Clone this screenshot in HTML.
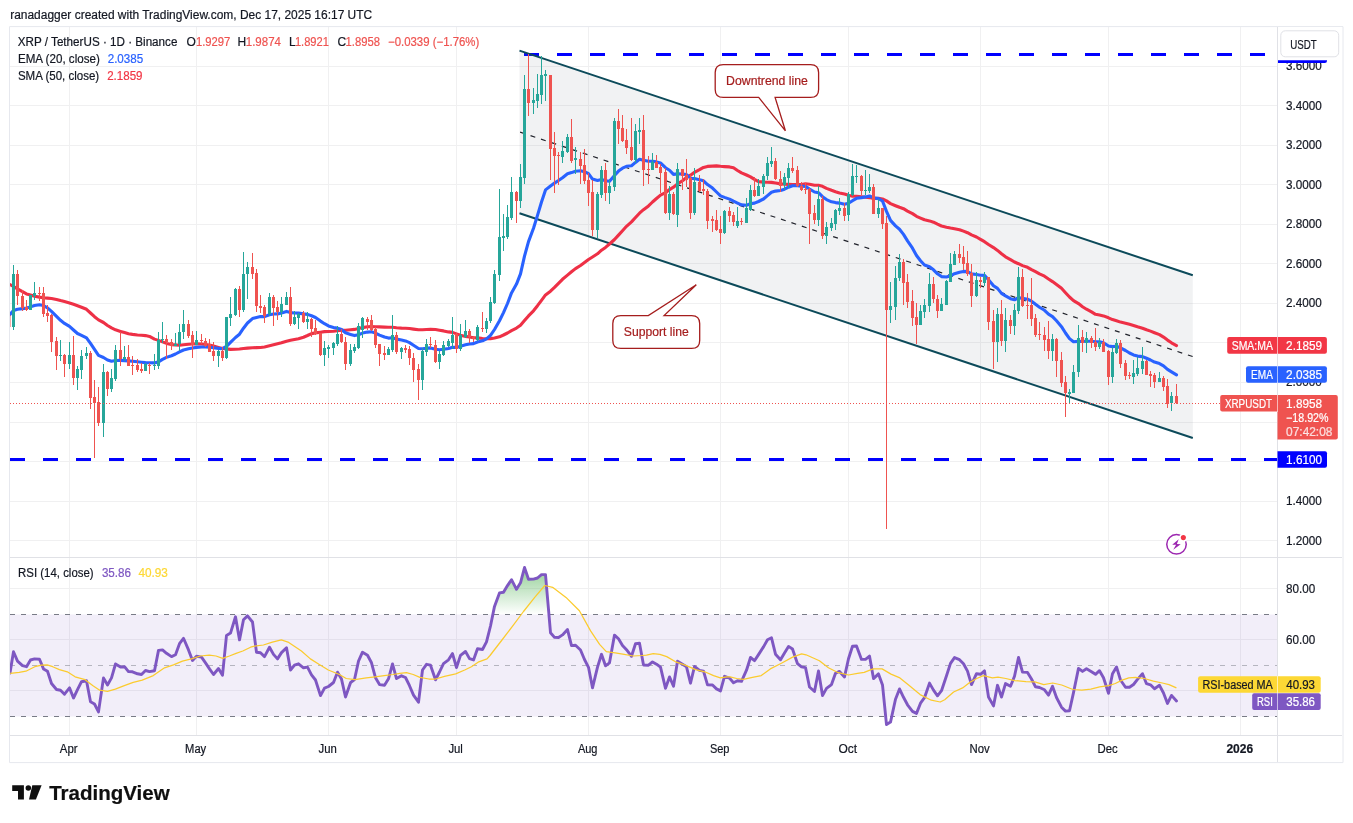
<!DOCTYPE html>
<html><head><meta charset="utf-8"><title>XRPUSDT chart</title>
<style>html,body{margin:0;padding:0;background:#fff}body{width:1353px;height:823px;overflow:hidden}</style></head>
<body>
<svg width="1353" height="823" viewBox="0 0 1353 823" style="display:block;font-family:'Liberation Sans', sans-serif;font-size:12px">
<rect width="1353" height="823" fill="#fff"/>
<defs>
<clipPath id="cm"><rect x="10" y="27" width="1267" height="530"/></clipPath>
<clipPath id="cr"><rect x="10" y="558" width="1267" height="177"/></clipPath>
<linearGradient id="og" x1="0" y1="537" x2="0" y2="614.5" gradientUnits="userSpaceOnUse"><stop offset="0" stop-color="#4caf50" stop-opacity="1"/><stop offset="1" stop-color="#4caf50" stop-opacity="0"/></linearGradient>
</defs>
<text x="10.2" y="18.8" font-size="12px" fill="#131722" stroke="#131722" stroke-width="0.2" textLength="362" lengthAdjust="spacingAndGlyphs">ranadagger created with TradingView.com, Dec 17, 2025 16:17 UTC</text>
<path d="M69.5 27V735 M196.5 27V735 M328.5 27V735 M456.5 27V735 M588.5 27V735 M720.5 27V735 M848.5 27V735 M980.5 27V735 M1108.5 27V735 M1240.5 27V735 M10 66.5H1277 M10 105.5H1277 M10 145.5H1277 M10 184.5H1277 M10 224.5H1277 M10 263.5H1277 M10 303.5H1277 M10 342.5H1277 M10 382.5H1277 M10 422.5H1277 M10 461.5H1277 M10 501.5H1277 M10 540.5H1277 M10 588.5H1277 M10 639.5H1277 M10 690.5H1277" stroke="#2a2e39" stroke-opacity="0.07" stroke-width="1" fill="none" shape-rendering="crispEdges"/>
<g clip-path="url(#cm)">
<path d="M10 459.5H1277.5" stroke="#0000ff" stroke-width="3" stroke-dasharray="15 18" fill="none" shape-rendering="crispEdges"/>
<path d="M524 54.5H1277.5" stroke="#0000ff" stroke-width="3" stroke-dasharray="15 18" fill="none" shape-rendering="crispEdges"/>
<polygon points="519.5,50.6 1192.8,275.3 1192.8,438.0 519.5,213.3" fill="#787b86" fill-opacity="0.1"/>
<path d="M520.1 132.15L1192.8 356.6" stroke="#20222a" stroke-width="1.2" stroke-dasharray="5 6" fill="none"/>
<path d="M519.5 50.6L1192.8 275.3M519.5 213.3L1192.8 438.0" stroke="#0c4a5a" stroke-width="2" fill="none"/>
<path d="M10.0 284.6L13.5 286.5L17.5 288.9L22.5 291.7L26.5 293.9L30.5 295.0L34.5 296.2L39.5 297.1L43.5 297.7L47.5 298.1L51.5 298.5L56.5 299.5L60.5 300.6L64.5 301.6L69.5 303.0L73.5 304.3L77.5 305.7L81.5 307.2L86.5 309.3L90.5 313.0L94.5 316.7L98.5 319.9L103.5 322.5L107.5 325.5L111.5 327.9L115.5 329.8L120.5 331.4L124.5 332.6L128.5 333.8L132.5 334.4L137.5 335.0L141.5 335.3L145.5 335.6L149.5 336.4L154.5 339.1L158.5 340.4L162.5 341.9L166.5 343.4L171.5 344.6L175.5 344.9L179.5 345.2L183.5 344.7L188.5 344.2L192.5 344.0L196.5 343.9L201.5 344.0L205.5 344.5L209.5 345.1L213.5 346.1L218.5 347.4L222.5 348.4L226.5 348.9L230.5 349.4L235.5 349.3L239.5 349.0L243.5 348.5L247.5 348.1L252.5 347.8L256.5 347.6L260.5 347.5L264.5 347.0L269.5 345.8L273.5 344.8L277.5 343.8L281.5 342.8L286.5 341.2L290.5 340.3L294.5 339.5L298.5 338.7L303.5 337.2L307.5 335.5L311.5 333.6L315.5 332.9L320.5 332.2L324.5 331.6L328.5 331.5L333.5 331.2L337.5 330.7L341.5 330.3L345.5 330.2L350.5 329.8L354.5 329.4L358.5 328.6L362.5 327.6L367.5 326.8L371.5 326.6L375.5 326.7L379.5 326.9L384.5 327.1L388.5 327.2L392.5 327.3L396.5 327.8L401.5 328.1L405.5 328.2L409.5 328.5L413.5 329.1L418.5 329.8L422.5 329.8L426.5 329.5L430.5 329.4L435.5 329.5L439.5 330.2L443.5 330.9L448.5 331.9L452.5 332.4L456.5 333.9L460.5 335.3L465.5 336.4L469.5 337.0L473.5 337.7L477.5 337.9L482.5 338.5L486.5 338.8L490.5 338.6L494.5 338.0L499.5 336.8L503.5 335.0L507.5 333.0L511.5 330.6L516.5 328.1L520.5 325.3L524.5 320.5L528.5 315.9L533.5 310.8L537.5 305.7L541.5 300.3L545.5 294.9L550.5 291.2L554.5 287.4L558.5 283.3L562.5 279.3L567.5 275.1L571.5 271.8L575.5 268.6L580.5 265.5L584.5 262.5L588.5 259.5L592.5 257.0L597.5 253.8L601.5 250.2L605.5 247.4L609.5 244.0L614.5 239.5L618.5 235.1L622.5 230.7L626.5 226.3L631.5 221.9L635.5 217.5L639.5 213.2L643.5 209.7L648.5 205.9L652.5 202.0L656.5 198.5L660.5 195.1L665.5 192.7L669.5 189.6L673.5 187.2L677.5 183.9L682.5 180.7L686.5 177.5L690.5 175.2L694.5 172.3L699.5 169.7L703.5 167.4L707.5 166.4L712.5 166.1L716.5 165.9L720.5 166.3L724.5 166.6L729.5 166.9L733.5 167.8L737.5 170.5L741.5 172.9L746.5 175.0L750.5 176.9L754.5 179.4L758.5 181.6L763.5 182.1L767.5 182.3L771.5 182.4L775.5 183.0L780.5 183.9L784.5 184.3L788.5 184.4L792.5 184.6L797.5 184.6L801.5 184.6L805.5 183.8L809.5 184.2L814.5 185.2L818.5 185.3L822.5 186.3L826.5 188.4L831.5 190.3L835.5 191.7L839.5 192.9L844.5 194.0L848.5 195.2L852.5 196.2L856.5 196.3L861.5 196.7L865.5 197.3L869.5 197.6L873.5 198.5L878.5 198.4L882.5 199.0L886.5 200.9L890.5 203.6L895.5 205.7L899.5 207.3L903.5 208.7L907.5 211.1L912.5 213.6L916.5 216.3L920.5 218.1L924.5 219.8L929.5 220.9L933.5 222.2L937.5 224.2L941.5 226.0L946.5 227.2L950.5 228.0L954.5 228.7L959.5 229.7L963.5 231.1L967.5 232.7L971.5 234.9L976.5 237.0L980.5 239.3L984.5 241.7L988.5 244.5L993.5 247.6L997.5 250.4L1001.5 253.8L1005.5 256.8L1010.5 259.6L1014.5 262.0L1018.5 263.7L1022.5 265.6L1027.5 267.3L1031.5 269.7L1035.5 271.7L1039.5 273.9L1044.5 276.2L1048.5 279.0L1052.5 281.6L1056.5 284.5L1061.5 288.3L1065.5 292.7L1069.5 297.0L1073.5 300.6L1078.5 303.6L1082.5 306.7L1086.5 309.2L1091.5 311.9L1095.5 314.3L1099.5 315.0L1103.5 315.9L1108.5 317.8L1112.5 319.6L1116.5 320.8L1120.5 322.1L1125.5 323.2L1129.5 324.3L1133.5 325.5L1137.5 326.8L1142.5 328.3L1146.5 329.8L1150.5 331.1L1154.5 332.7L1159.5 334.6L1163.5 337.1L1167.5 340.1L1171.5 342.8L1176.5 345.6" stroke="#ee3046" stroke-width="3.1" fill="none" stroke-linejoin="round" stroke-linecap="round"/>
<path d="M10.0 314.5L13.5 310.4L17.5 309.2L22.5 308.6L26.5 308.1L30.5 306.9L34.5 305.5L39.5 304.7L43.5 305.5L47.5 307.8L51.5 311.3L56.5 316.3L60.5 320.3L64.5 323.4L69.5 326.4L73.5 330.0L77.5 333.5L81.5 335.3L86.5 337.8L90.5 343.4L94.5 349.4L98.5 355.4L103.5 357.5L107.5 360.0L111.5 361.3L115.5 360.5L120.5 360.4L124.5 360.6L128.5 360.9L132.5 361.3L137.5 361.8L141.5 362.2L145.5 362.6L149.5 362.8L154.5 362.9L158.5 361.8L162.5 359.4L166.5 357.4L171.5 355.7L175.5 354.0L179.5 351.9L183.5 350.0L188.5 348.7L192.5 348.0L196.5 347.4L201.5 347.0L205.5 347.0L209.5 347.2L213.5 347.7L218.5 348.4L222.5 348.7L226.5 346.3L230.5 342.3L235.5 337.5L239.5 334.2L243.5 328.2L247.5 323.0L252.5 318.6L256.5 317.5L260.5 316.6L264.5 316.6L269.5 314.7L273.5 314.0L277.5 313.9L281.5 312.9L286.5 311.4L290.5 312.6L294.5 313.0L298.5 313.1L303.5 313.9L307.5 314.4L311.5 315.8L315.5 317.5L320.5 321.1L324.5 323.7L328.5 325.9L333.5 327.5L337.5 328.1L341.5 329.5L345.5 332.8L350.5 334.4L354.5 335.6L358.5 334.7L362.5 333.1L367.5 332.1L371.5 331.8L375.5 333.1L379.5 335.1L384.5 337.0L388.5 338.1L392.5 337.8L396.5 339.1L401.5 340.0L405.5 340.9L409.5 342.6L413.5 345.2L418.5 348.5L422.5 348.7L426.5 348.3L430.5 347.9L435.5 349.3L439.5 349.7L443.5 349.3L448.5 348.5L452.5 347.2L456.5 347.4L460.5 346.2L465.5 344.8L469.5 344.0L473.5 343.6L477.5 342.0L482.5 340.8L486.5 338.9L490.5 335.4L494.5 329.5L499.5 320.7L503.5 312.6L507.5 303.5L511.5 292.9L516.5 284.1L520.5 273.9L524.5 256.2L528.5 241.6L533.5 228.2L537.5 215.4L541.5 202.0L545.5 189.9L550.5 186.0L554.5 183.1L558.5 180.5L562.5 177.7L567.5 173.8L571.5 172.6L575.5 171.2L580.5 170.7L584.5 171.7L588.5 173.7L592.5 179.1L597.5 180.5L601.5 179.5L605.5 180.8L609.5 181.3L614.5 175.5L618.5 171.1L622.5 168.2L626.5 166.3L631.5 165.7L635.5 162.4L639.5 159.3L643.5 160.3L648.5 161.2L652.5 161.3L656.5 161.9L660.5 163.0L665.5 167.7L669.5 170.2L673.5 174.4L677.5 173.9L682.5 174.0L686.5 174.6L690.5 178.2L694.5 178.6L699.5 179.7L703.5 180.8L707.5 184.6L712.5 188.1L716.5 192.0L720.5 195.9L724.5 197.4L729.5 199.1L733.5 201.2L737.5 203.1L741.5 204.9L746.5 205.2L750.5 203.8L754.5 203.1L758.5 201.5L763.5 199.0L767.5 195.6L771.5 192.3L775.5 191.1L780.5 190.5L784.5 189.2L788.5 187.2L792.5 185.7L797.5 185.7L801.5 186.1L805.5 186.4L809.5 189.0L814.5 192.0L818.5 192.7L822.5 196.7L826.5 199.6L831.5 201.8L835.5 202.6L839.5 203.1L844.5 204.3L848.5 203.3L852.5 200.7L856.5 198.3L861.5 197.6L865.5 196.9L869.5 196.0L873.5 197.7L878.5 198.6L882.5 201.0L886.5 211.4L890.5 220.4L895.5 225.9L899.5 229.3L903.5 234.4L907.5 240.9L912.5 248.2L916.5 255.5L920.5 260.8L924.5 265.0L929.5 266.8L933.5 269.8L937.5 273.8L941.5 276.6L946.5 277.0L950.5 275.8L954.5 273.7L959.5 272.2L963.5 271.4L967.5 271.6L971.5 273.9L976.5 274.5L980.5 275.2L984.5 275.4L988.5 279.8L993.5 285.7L997.5 288.4L1001.5 293.4L1005.5 295.9L1010.5 298.7L1014.5 299.8L1018.5 297.6L1022.5 298.4L1027.5 299.2L1031.5 301.1L1035.5 304.3L1039.5 307.2L1044.5 310.3L1048.5 314.2L1052.5 316.6L1056.5 320.8L1061.5 326.7L1065.5 333.0L1069.5 338.6L1073.5 341.8L1078.5 341.4L1082.5 341.5L1086.5 341.2L1091.5 341.3L1095.5 341.8L1099.5 341.8L1103.5 342.8L1108.5 346.0L1112.5 346.6L1116.5 346.2L1120.5 347.9L1125.5 350.5L1129.5 353.0L1133.5 354.9L1137.5 356.1L1142.5 356.6L1146.5 358.3L1150.5 360.0L1154.5 362.1L1159.5 363.6L1163.5 365.8L1167.5 369.4L1171.5 371.9L1176.5 374.9" stroke="#2962ff" stroke-width="3.1" fill="none" stroke-linejoin="round" stroke-linecap="round"/>
<path d="M8 315h2.9v12h-2.9z" fill="#ef5350" fill-opacity="0.55"/>
<path d="M13.0 265h1v65h-1zM30.0 295h1v15h-1zM34.0 282h1v18h-1zM60.0 340h1v21h-1zM69.0 342h1v27h-1zM77.0 366h1v24h-1zM81.0 350h1v29h-1zM86.0 347h1v12h-1zM103.0 364h1v73h-1zM111.0 369h1v23h-1zM115.0 345h1v36h-1zM124.0 346h1v15h-1zM145.0 363h1v8h-1zM154.0 354h1v16h-1zM158.0 332h1v37h-1zM162.0 322h1v21h-1zM175.0 333h1v13h-1zM179.0 324h1v27h-1zM183.0 310h1v29h-1zM196.0 331h1v14h-1zM218.0 350h1v17h-1zM226.0 317h1v42h-1zM230.0 297h1v29h-1zM235.0 288h1v28h-1zM243.0 252h1v60h-1zM247.0 262h1v37h-1zM269.0 293h1v23h-1zM281.0 297h1v20h-1zM286.0 292h1v13h-1zM294.0 311h1v14h-1zM298.0 313h1v16h-1zM307.0 312h1v17h-1zM324.0 341h1v25h-1zM328.0 345h1v13h-1zM333.0 342h1v13h-1zM337.0 326h1v20h-1zM350.0 344h1v22h-1zM354.0 344h1v9h-1zM358.0 323h1v26h-1zM362.0 317h1v21h-1zM388.0 347h1v8h-1zM392.0 315h1v37h-1zM401.0 347h1v12h-1zM422.0 348h1v42h-1zM426.0 339h1v17h-1zM439.0 351h1v18h-1zM443.0 341h1v15h-1zM448.0 339h1v8h-1zM452.0 317h1v32h-1zM460.0 324h1v27h-1zM465.0 320h1v18h-1zM477.0 325h1v16h-1zM486.0 318h1v15h-1zM490.0 297h1v26h-1zM494.0 270h1v34h-1zM499.0 189h1v92h-1zM503.0 214h1v37h-1zM507.0 205h1v34h-1zM511.0 177h1v43h-1zM520.0 164h1v44h-1zM524.0 75h1v109h-1zM533.0 88h1v26h-1zM537.0 74h1v34h-1zM541.0 56h1v48h-1zM545.0 70h1v31h-1zM562.0 141h1v22h-1zM567.0 134h1v19h-1zM575.0 147h1v27h-1zM597.0 192h1v46h-1zM601.0 166h1v32h-1zM609.0 180h1v24h-1zM614.0 118h1v73h-1zM635.0 124h1v39h-1zM639.0 118h1v26h-1zM652.0 153h1v17h-1zM669.0 186h1v34h-1zM677.0 163h1v64h-1zM694.0 168h1v47h-1zM724.0 210h1v24h-1zM737.0 207h1v21h-1zM746.0 198h1v25h-1zM750.0 185h1v26h-1zM758.0 179h1v17h-1zM763.0 174h1v20h-1zM767.0 157h1v23h-1zM771.0 147h1v20h-1zM784.0 173h1v17h-1zM788.0 163h1v25h-1zM818.0 186h1v40h-1zM826.0 222h1v22h-1zM831.0 218h1v13h-1zM835.0 209h1v21h-1zM839.0 198h1v17h-1zM848.0 192h1v29h-1zM852.0 164h1v32h-1zM856.0 165h1v18h-1zM865.0 170h1v25h-1zM869.0 174h1v19h-1zM878.0 199h1v19h-1zM890.0 282h1v41h-1zM895.0 266h1v54h-1zM899.0 254h1v27h-1zM920.0 305h1v20h-1zM924.0 299h1v19h-1zM929.0 273h1v39h-1zM941.0 298h1v13h-1zM946.0 280h1v25h-1zM950.0 253h1v29h-1zM954.0 251h1v14h-1zM976.0 272h1v25h-1zM984.0 272h1v14h-1zM997.0 308h1v54h-1zM1005.0 308h1v44h-1zM1014.0 304h1v31h-1zM1018.0 267h1v47h-1zM1052.0 334h1v27h-1zM1069.0 389h1v14h-1zM1073.0 365h1v28h-1zM1078.0 325h1v52h-1zM1086.0 332h1v21h-1zM1099.0 338h1v11h-1zM1112.0 347h1v36h-1zM1116.0 339h1v15h-1zM1133.0 360h1v24h-1zM1137.0 357h1v19h-1zM1142.0 347h1v27h-1zM1159.0 372h1v10h-1zM1171.0 392h1v19h-1zM12.0 274h3v53h-3zM29.0 295h3v15h-3zM33.0 293h3v3h-3zM59.0 355h3v1h-3zM68.0 355h3v9h-3zM76.0 369h3v9h-3zM80.0 356h3v14h-3zM85.0 353h3v3h-3zM102.0 372h3v51h-3zM110.0 378h3v11h-3zM114.0 350h3v29h-3zM123.0 357h3v2h-3zM144.0 364h3v7h-3zM153.0 365h3v1h-3zM157.0 340h3v26h-3zM161.0 339h3v1h-3zM174.0 344h3v2h-3zM178.0 332h3v12h-3zM182.0 324h3v8h-3zM195.0 340h3v5h-3zM217.0 351h3v5h-3zM225.0 317h3v41h-3zM229.0 314h3v4h-3zM234.0 289h3v26h-3zM242.0 274h3v36h-3zM246.0 267h3v7h-3zM268.0 297h3v17h-3zM280.0 304h3v8h-3zM285.0 297h3v8h-3zM293.0 317h3v7h-3zM297.0 314h3v4h-3zM306.0 319h3v3h-3zM323.0 348h3v7h-3zM327.0 347h3v2h-3zM332.0 343h3v5h-3zM336.0 334h3v10h-3zM349.0 350h3v14h-3zM353.0 347h3v4h-3zM357.0 326h3v22h-3zM361.0 318h3v12h-3zM387.0 349h3v6h-3zM391.0 335h3v15h-3zM400.0 348h3v4h-3zM421.0 351h3v29h-3zM425.0 344h3v8h-3zM438.0 354h3v8h-3zM442.0 345h3v10h-3zM447.0 341h3v5h-3zM451.0 335h3v8h-3zM459.0 335h3v14h-3zM464.0 331h3v6h-3zM476.0 327h3v13h-3zM485.0 321h3v8h-3zM489.0 302h3v19h-3zM493.0 274h3v29h-3zM498.0 237h3v38h-3zM502.0 236h3v2h-3zM506.0 217h3v20h-3zM510.0 192h3v26h-3zM519.0 177h3v24h-3zM523.0 89h3v89h-3zM532.0 100h3v3h-3zM536.0 94h3v7h-3zM540.0 75h3v20h-3zM544.0 74h3v2h-3zM561.0 151h3v6h-3zM566.0 137h3v15h-3zM574.0 158h3v2h-3zM596.0 194h3v36h-3zM600.0 170h3v25h-3zM608.0 186h3v7h-3zM613.0 121h3v66h-3zM634.0 131h3v29h-3zM638.0 130h3v2h-3zM651.0 162h3v8h-3zM668.0 194h3v19h-3zM676.0 169h3v46h-3zM693.0 182h3v31h-3zM723.0 211h3v22h-3zM736.0 221h3v5h-3zM745.0 208h3v15h-3zM749.0 190h3v20h-3zM757.0 186h3v10h-3zM762.0 176h3v11h-3zM766.0 163h3v13h-3zM770.0 161h3v3h-3zM783.0 177h3v8h-3zM787.0 168h3v10h-3zM817.0 199h3v21h-3zM825.0 227h3v9h-3zM830.0 223h3v5h-3zM834.0 210h3v14h-3zM838.0 208h3v3h-3zM847.0 194h3v21h-3zM851.0 176h3v19h-3zM855.0 176h3v1h-3zM864.0 190h3v1h-3zM868.0 187h3v4h-3zM877.0 208h3v6h-3zM889.0 306h3v4h-3zM894.0 278h3v29h-3zM898.0 262h3v16h-3zM919.0 311h3v14h-3zM923.0 305h3v7h-3zM928.0 284h3v22h-3zM940.0 304h3v7h-3zM945.0 281h3v24h-3zM949.0 264h3v18h-3zM953.0 254h3v11h-3zM975.0 280h3v16h-3zM983.0 277h3v6h-3zM996.0 314h3v28h-3zM1004.0 320h3v21h-3zM1013.0 310h3v16h-3zM1017.0 277h3v34h-3zM1051.0 339h3v12h-3zM1068.0 392h3v2h-3zM1072.0 372h3v21h-3zM1077.0 338h3v34h-3zM1085.0 338h3v5h-3zM1098.0 342h3v5h-3zM1111.0 352h3v25h-3zM1115.0 343h3v10h-3zM1132.0 373h3v4h-3zM1136.0 368h3v6h-3zM1141.0 361h3v8h-3zM1158.0 378h3v4h-3zM1170.0 396h3v7h-3z" fill="#26a69a" shape-rendering="crispEdges"/>
<path d="M17.0 270h1v35h-1zM22.0 290h1v21h-1zM26.0 300h1v11h-1zM39.0 287h1v14h-1zM43.0 287h1v30h-1zM47.0 305h1v17h-1zM51.0 314h1v38h-1zM56.0 337h1v33h-1zM64.0 354h1v23h-1zM73.0 336h1v49h-1zM90.0 351h1v58h-1zM94.0 380h1v78h-1zM98.0 387h1v39h-1zM107.0 371h1v25h-1zM120.0 332h1v34h-1zM128.0 345h1v21h-1zM132.0 356h1v19h-1zM137.0 359h1v13h-1zM141.0 363h1v10h-1zM149.0 363h1v11h-1zM166.0 335h1v24h-1zM171.0 339h1v11h-1zM188.0 320h1v18h-1zM192.0 331h1v27h-1zM201.0 334h1v10h-1zM205.0 338h1v9h-1zM209.0 339h1v13h-1zM213.0 342h1v19h-1zM222.0 347h1v14h-1zM239.0 286h1v31h-1zM252.0 253h1v26h-1zM256.0 269h1v43h-1zM260.0 295h1v18h-1zM264.0 305h1v18h-1zM273.0 295h1v31h-1zM277.0 301h1v19h-1zM290.0 287h1v39h-1zM303.0 311h1v12h-1zM311.0 318h1v19h-1zM315.0 320h1v15h-1zM320.0 333h1v23h-1zM341.0 329h1v14h-1zM345.0 337h1v33h-1zM367.0 317h1v13h-1zM371.0 315h1v16h-1zM375.0 327h1v21h-1zM379.0 344h1v22h-1zM384.0 346h1v14h-1zM396.0 332h1v22h-1zM405.0 345h1v8h-1zM409.0 346h1v19h-1zM413.0 353h1v29h-1zM418.0 364h1v36h-1zM430.0 337h1v11h-1zM435.0 340h1v23h-1zM456.0 333h1v20h-1zM469.0 329h1v14h-1zM473.0 336h1v6h-1zM482.0 312h1v20h-1zM516.0 191h1v32h-1zM528.0 54h1v62h-1zM550.0 75h1v105h-1zM554.0 132h1v61h-1zM558.0 152h1v33h-1zM571.0 119h1v44h-1zM580.0 152h1v32h-1zM584.0 149h1v35h-1zM588.0 173h1v33h-1zM592.0 180h1v56h-1zM605.0 163h1v38h-1zM618.0 109h1v35h-1zM622.0 115h1v27h-1zM626.0 129h1v25h-1zM631.0 118h1v43h-1zM643.0 115h1v71h-1zM648.0 156h1v28h-1zM656.0 155h1v13h-1zM660.0 164h1v29h-1zM665.0 168h1v46h-1zM673.0 192h1v23h-1zM682.0 169h1v21h-1zM686.0 159h1v28h-1zM690.0 175h1v44h-1zM699.0 175h1v17h-1zM703.0 179h1v16h-1zM707.0 189h1v40h-1zM712.0 216h1v16h-1zM716.0 210h1v21h-1zM720.0 216h1v28h-1zM729.0 207h1v15h-1zM733.0 212h1v14h-1zM741.0 218h1v7h-1zM754.0 177h1v20h-1zM775.0 158h1v22h-1zM780.0 171h1v21h-1zM792.0 157h1v16h-1zM797.0 166h1v21h-1zM801.0 182h1v9h-1zM805.0 183h1v11h-1zM809.0 188h1v56h-1zM814.0 205h1v19h-1zM822.0 196h1v43h-1zM844.0 203h1v18h-1zM861.0 175h1v20h-1zM873.0 184h1v30h-1zM882.0 208h1v21h-1zM886.0 216h1v313h-1zM903.0 259h1v46h-1zM907.0 274h1v34h-1zM912.0 290h1v36h-1zM916.0 303h1v41h-1zM933.0 277h1v26h-1zM937.0 295h1v23h-1zM959.0 244h1v19h-1zM963.0 246h1v24h-1zM967.0 251h1v25h-1zM971.0 264h1v43h-1zM980.0 277h1v11h-1zM988.0 277h1v53h-1zM993.0 310h1v59h-1zM1001.0 300h1v46h-1zM1010.0 315h1v19h-1zM1022.0 269h1v38h-1zM1027.0 293h1v26h-1zM1031.0 278h1v48h-1zM1035.0 314h1v23h-1zM1039.0 322h1v18h-1zM1044.0 327h1v24h-1zM1048.0 321h1v38h-1zM1056.0 338h1v39h-1zM1061.0 352h1v35h-1zM1065.0 376h1v41h-1zM1082.0 330h1v22h-1zM1091.0 336h1v12h-1zM1095.0 328h1v23h-1zM1103.0 339h1v13h-1zM1108.0 350h1v35h-1zM1120.0 340h1v28h-1zM1125.0 360h1v20h-1zM1129.0 372h1v7h-1zM1146.0 360h1v15h-1zM1150.0 371h1v16h-1zM1154.0 373h1v15h-1zM1163.0 376h1v15h-1zM1167.0 379h1v29h-1zM1176.0 384h1v20h-1zM16.0 274h3v22h-3zM21.0 296h3v12h-3zM25.0 307h3v3h-3zM38.0 293h3v1h-3zM42.0 293h3v21h-3zM46.0 313h3v3h-3zM50.0 315h3v27h-3zM55.0 341h3v15h-3zM63.0 355h3v9h-3zM72.0 355h3v23h-3zM89.0 353h3v45h-3zM93.0 397h3v6h-3zM97.0 402h3v21h-3zM106.0 372h3v17h-3zM119.0 350h3v9h-3zM127.0 357h3v9h-3zM131.0 365h3v1h-3zM136.0 365h3v5h-3zM140.0 369h3v2h-3zM148.0 365h3v1h-3zM165.0 339h3v3h-3zM170.0 342h3v4h-3zM187.0 324h3v12h-3zM191.0 335h3v10h-3zM200.0 340h3v1h-3zM204.0 341h3v5h-3zM208.0 344h3v8h-3zM212.0 351h3v5h-3zM221.0 351h3v7h-3zM238.0 289h3v21h-3zM251.0 267h3v7h-3zM255.0 273h3v33h-3zM259.0 306h3v2h-3zM263.0 307h3v9h-3zM272.0 297h3v11h-3zM276.0 307h3v5h-3zM289.0 297h3v27h-3zM302.0 313h3v9h-3zM310.0 319h3v10h-3zM314.0 328h3v6h-3zM319.0 333h3v22h-3zM340.0 334h3v8h-3zM344.0 342h3v22h-3zM366.0 319h3v3h-3zM370.0 320h3v10h-3zM374.0 329h3v16h-3zM378.0 344h3v10h-3zM383.0 353h3v2h-3zM395.0 335h3v17h-3zM404.0 348h3v2h-3zM408.0 349h3v9h-3zM412.0 358h3v12h-3zM417.0 369h3v11h-3zM429.0 344h3v1h-3zM434.0 345h3v17h-3zM455.0 334h3v15h-3zM468.0 331h3v6h-3zM472.0 337h3v2h-3zM481.0 328h3v1h-3zM515.0 192h3v9h-3zM527.0 89h3v14h-3zM549.0 75h3v74h-3zM553.0 148h3v8h-3zM557.0 155h3v1h-3zM570.0 137h3v24h-3zM579.0 159h3v7h-3zM583.0 165h3v16h-3zM587.0 180h3v13h-3zM591.0 192h3v38h-3zM604.0 170h3v23h-3zM617.0 121h3v8h-3zM621.0 128h3v13h-3zM625.0 140h3v8h-3zM630.0 147h3v13h-3zM642.0 130h3v40h-3zM647.0 169h3v1h-3zM655.0 162h3v6h-3zM659.0 167h3v6h-3zM664.0 172h3v41h-3zM672.0 194h3v20h-3zM681.0 169h3v7h-3zM685.0 175h3v5h-3zM689.0 178h3v35h-3zM698.0 182h3v9h-3zM702.0 189h3v2h-3zM706.0 191h3v30h-3zM711.0 219h3v2h-3zM715.0 220h3v10h-3zM719.0 229h3v4h-3zM728.0 211h3v5h-3zM732.0 215h3v7h-3zM740.0 221h3v1h-3zM753.0 190h3v6h-3zM774.0 161h3v18h-3zM779.0 179h3v7h-3zM791.0 168h3v3h-3zM796.0 170h3v16h-3zM800.0 186h3v4h-3zM804.0 189h3v1h-3zM808.0 189h3v25h-3zM813.0 213h3v7h-3zM821.0 199h3v37h-3zM843.0 208h3v8h-3zM860.0 176h3v15h-3zM872.0 187h3v27h-3zM881.0 208h3v16h-3zM885.0 223h3v87h-3zM902.0 262h3v21h-3zM906.0 282h3v20h-3zM911.0 301h3v17h-3zM915.0 317h3v8h-3zM932.0 284h3v15h-3zM936.0 299h3v12h-3zM958.0 254h3v4h-3zM962.0 257h3v7h-3zM966.0 263h3v11h-3zM970.0 273h3v23h-3zM979.0 280h3v2h-3zM987.0 277h3v45h-3zM992.0 321h3v21h-3zM1000.0 314h3v27h-3zM1009.0 320h3v6h-3zM1021.0 277h3v29h-3zM1026.0 305h3v1h-3zM1030.0 305h3v14h-3zM1034.0 318h3v17h-3zM1038.0 334h3v1h-3zM1043.0 335h3v5h-3zM1047.0 339h3v12h-3zM1055.0 339h3v22h-3zM1060.0 360h3v23h-3zM1064.0 382h3v11h-3zM1081.0 337h3v6h-3zM1090.0 338h3v5h-3zM1094.0 342h3v5h-3zM1102.0 342h3v10h-3zM1107.0 351h3v26h-3zM1119.0 343h3v21h-3zM1124.0 363h3v13h-3zM1128.0 375h3v1h-3zM1145.0 361h3v14h-3zM1149.0 374h3v2h-3zM1153.0 375h3v7h-3zM1162.0 378h3v9h-3zM1166.0 386h3v18h-3zM1175.0 396h3v7h-3z" fill="#ef5350" shape-rendering="crispEdges"/>
<path d="M10 403.5H1277" stroke="#ef5350" stroke-width="1" stroke-dasharray="1 2" fill="none" shape-rendering="crispEdges"/>
<path d="M723.2 64.6H810.6Q818.6 64.6 818.6 72.6V89.4Q818.6 97.4 810.6 97.4H775.1L785.4 130.8L758.7 97.4H723.2Q715.2 97.4 715.2 89.4V72.6Q715.2 64.6 723.2 64.6Z" fill="#fff" stroke="#a51d1d" stroke-width="1.3" stroke-linejoin="miter"/>
<text x="726.1" y="84.8" fill="#a51d1d" stroke="#a51d1d" stroke-width="0.2" textLength="81.8" lengthAdjust="spacingAndGlyphs">Downtrend line</text>
<path d="M620.8 315.6H648.3L696.3 284.8L664.1 315.6H691.7Q699.7 315.6 699.7 323.6V340.4Q699.7 348.4 691.7 348.4H620.8Q612.8 348.4 612.8 340.4V323.6Q612.8 315.6 620.8 315.6Z" fill="#fff" stroke="#a51d1d" stroke-width="1.3" stroke-linejoin="miter"/>
<text x="623.8" y="335.8" fill="#a51d1d" stroke="#a51d1d" stroke-width="0.2" textLength="64.9" lengthAdjust="spacingAndGlyphs">Support line</text>
<circle cx="1176.5" cy="544.3" r="9.75" fill="#fff" stroke="#9c27b0" stroke-width="1.5"/>
<path d="M1178.7 539.2L1172.2 544.7L1176.1 544.85L1173.2 549.8L1180.7 544.2L1176.9 544Z" fill="#9c27b0"/>
<circle cx="1183.35" cy="537.6" r="4.3" fill="#fff"/><circle cx="1183.35" cy="537.6" r="2.55" fill="#f23645"/>
</g>
<g clip-path="url(#cr)">
<rect x="10" y="614.5" width="1267" height="102.0" fill="#7e57c2" fill-opacity="0.1"/>
<path d="M10 614.5H1277M10 716.5H1277" stroke="#787b86" stroke-width="1" stroke-dasharray="5 6" fill="none" shape-rendering="crispEdges"/>
<path d="M10 665.5H1277" stroke="#787b86" stroke-opacity="0.5" stroke-width="1" stroke-dasharray="5 6" fill="none" shape-rendering="crispEdges"/>
<path d="M492.8 614.5L494.5 606.4L499.5 592.9L503.5 592.2L507.5 585.6L511.5 579.7L516.5 589.3L520.5 582.8L524.5 567.5L528.5 579.3L533.5 579.1L537.5 578.0L541.5 574.6L545.5 574.6L548.9 614.5Z" fill="url(#og)"/>
<path d="M10.0 673.0L13.5 651.7L17.5 661.1L22.5 665.6L26.5 666.7L30.5 660.0L34.5 658.9L39.5 659.3L43.5 668.9L47.5 671.2L51.5 683.5L56.5 689.5L60.5 690.2L64.5 694.2L69.5 687.9L73.5 698.0L77.5 689.7L81.5 681.7L86.5 680.8L90.5 701.8L94.5 704.0L98.5 711.9L103.5 677.9L107.5 685.0L111.5 677.9L115.5 664.0L120.5 667.1L124.5 666.7L128.5 671.6L132.5 671.8L137.5 673.8L141.5 674.5L145.5 670.5L149.5 671.6L154.5 670.7L158.5 650.4L162.5 649.9L166.5 653.3L171.5 656.6L175.5 654.8L179.5 643.7L183.5 638.3L188.5 649.9L192.5 660.4L196.5 656.2L201.5 657.1L205.5 662.9L209.5 668.9L213.5 674.5L218.5 668.5L222.5 675.2L226.5 635.4L230.5 633.1L235.5 616.8L239.5 639.9L243.5 619.7L247.5 615.9L252.5 622.0L256.5 652.2L260.5 652.8L264.5 656.6L269.5 647.2L273.5 654.4L277.5 658.9L281.5 652.6L286.5 647.7L290.5 670.0L294.5 665.1L298.5 663.8L303.5 667.8L307.5 667.1L311.5 674.8L315.5 680.0L320.5 695.6L324.5 688.1L328.5 686.5L333.5 682.5L337.5 672.2L341.5 679.1L345.5 697.0L350.5 682.7L354.5 679.5L358.5 661.1L362.5 652.2L367.5 655.2L371.5 662.8L375.5 677.8L379.5 684.6L384.5 685.3L388.5 678.8L392.5 663.9L396.5 678.6L401.5 675.8L405.5 677.5L409.5 685.7L413.5 695.1L418.5 702.2L422.5 670.0L426.5 664.3L430.5 665.2L435.5 679.8L439.5 672.0L443.5 663.6L448.5 659.8L452.5 653.6L456.5 667.5L460.5 655.4L465.5 651.5L469.5 658.6L473.5 659.9L477.5 648.8L482.5 649.5L486.5 641.9L490.5 626.0L494.5 606.4L499.5 592.9L503.5 592.2L507.5 585.6L511.5 579.7L516.5 589.3L520.5 582.8L524.5 567.5L528.5 579.3L533.5 579.1L537.5 578.0L541.5 574.6L545.5 574.6L550.5 632.7L554.5 637.4L558.5 637.5L562.5 634.9L567.5 629.6L571.5 645.6L575.5 645.3L580.5 650.0L584.5 659.5L588.5 667.3L592.5 687.8L597.5 667.1L601.5 654.3L605.5 665.8L609.5 662.8L614.5 635.1L618.5 638.8L622.5 645.5L626.5 649.7L631.5 656.3L635.5 643.8L639.5 643.3L643.5 665.0L648.5 665.2L652.5 661.9L656.5 664.2L660.5 667.2L665.5 688.3L669.5 676.9L673.5 686.2L677.5 661.2L682.5 664.3L686.5 666.8L690.5 683.2L694.5 666.5L699.5 670.3L703.5 671.1L707.5 684.9L712.5 685.0L716.5 688.9L720.5 690.9L724.5 676.3L729.5 678.1L733.5 682.8L737.5 680.8L741.5 681.3L746.5 670.2L750.5 657.5L754.5 660.7L758.5 654.6L763.5 646.9L767.5 639.7L771.5 637.8L775.5 654.2L780.5 659.8L784.5 652.9L788.5 646.4L792.5 649.0L797.5 663.7L801.5 666.9L805.5 667.6L809.5 687.0L814.5 691.5L818.5 671.0L822.5 695.6L826.5 688.4L831.5 684.6L835.5 673.2L839.5 671.4L844.5 676.9L848.5 658.8L852.5 646.2L856.5 646.0L861.5 659.4L865.5 659.3L869.5 656.1L873.5 678.6L878.5 673.9L882.5 684.9L886.5 724.6L890.5 722.1L895.5 699.2L899.5 688.9L903.5 697.3L907.5 704.8L912.5 711.4L916.5 713.4L920.5 703.2L924.5 697.7L929.5 683.1L933.5 690.1L937.5 695.8L941.5 690.7L946.5 675.7L950.5 663.4L954.5 657.6L959.5 659.7L963.5 663.7L967.5 671.1L971.5 684.6L976.5 673.7L980.5 674.3L984.5 670.9L988.5 697.0L993.5 705.9L997.5 685.3L1001.5 697.1L1005.5 683.6L1010.5 686.2L1014.5 676.3L1018.5 657.5L1022.5 672.1L1027.5 672.4L1031.5 679.0L1035.5 686.8L1039.5 687.5L1044.5 689.8L1048.5 695.1L1052.5 686.3L1056.5 697.5L1061.5 707.2L1065.5 711.1L1069.5 710.8L1073.5 692.6L1078.5 668.4L1082.5 671.4L1086.5 668.7L1091.5 671.7L1095.5 674.3L1099.5 670.7L1103.5 677.7L1108.5 693.3L1112.5 673.7L1116.5 666.9L1120.5 680.0L1125.5 687.3L1129.5 687.3L1133.5 684.5L1137.5 679.4L1142.5 673.7L1146.5 683.7L1150.5 684.8L1154.5 688.8L1159.5 685.3L1163.5 693.0L1167.5 703.4L1171.5 695.4L1176.5 701.0" stroke="#7e57c2" stroke-width="2.9" fill="none" stroke-linejoin="round" stroke-linecap="round"/>
<path d="M10.2 673.4L19.2 672.3L25.9 671.2L34.8 666.7L41.5 665.1L47.1 664.9L52.7 666.7L59.4 669.6L67.3 671.8L75.1 676.8L85.1 679.7L93.0 685.7L99.7 690.2L107.5 691.3L115.3 689.1L124.3 685.7L133.2 682.3L142.2 680.1L153.3 675.6L164.5 667.8L173.5 664.9L182.4 661.1L191.4 658.9L200.3 656.0L209.3 655.1L216.0 656.0L222.7 658.4L229.4 656.0L236.1 653.3L242.8 651.0L250.6 647.2L254.5 646.1L263.4 645.0L272.4 642.1L281.3 639.9L288.0 642.1L294.7 646.6L301.4 651.0L310.4 658.9L319.3 664.5L328.3 670.0L339.4 674.5L346.2 678.5L355.1 679.7L366.3 677.9L375.2 676.8L384.2 675.6L393.1 674.5L399.8 673.4L406.5 672.7L413.2 674.5L419.9 677.4L428.9 679.0L435.6 679.0L444.5 676.3L455.7 673.8L464.7 670.0L471.4 666.7L478.1 662.2L487.0 658.9L490.0 655.5L501.2 641.0L512.4 626.4L523.5 611.5L534.7 597.4L544.8 585.5L552.6 587.3L566.0 597.4L579.4 610.8L590.6 630.9L599.6 644.3L606.3 651.7L615.2 652.8L624.2 654.4L633.1 656.0L642.1 655.5L646.5 655.1L653.2 653.7L659.9 654.4L666.7 656.6L675.6 661.8L684.5 664.9L695.7 669.6L704.7 671.8L713.6 675.6L720.3 677.9L727.0 676.8L730.0 676.8L736.7 678.5L743.4 679.4L752.4 677.4L761.3 675.6L770.3 668.9L781.4 663.3L792.6 657.1L801.6 653.9L806.0 654.8L812.7 657.7L819.4 660.7L828.4 667.8L837.3 672.3L848.5 675.0L857.5 673.4L864.2 672.3L873.1 668.9L882.1 668.9L891.0 674.1L899.9 677.9L908.9 685.2L920.1 694.6L931.3 700.2L940.2 702.0L944.7 699.8L953.6 692.0L962.6 687.9L970.0 682.3L976.7 678.5L983.4 675.6L992.4 677.9L998.0 677.2L1005.8 678.5L1014.7 680.6L1025.9 681.7L1034.8 681.9L1043.8 684.6L1052.7 683.0L1061.7 685.0L1072.9 689.5L1081.8 690.2L1090.8 689.1L1099.7 686.8L1108.6 685.7L1115.3 683.5L1122.1 680.1L1128.8 677.9L1135.5 677.4L1144.4 678.5L1153.4 681.2L1162.3 683.0L1169.0 684.6L1176.4 687.9" stroke="#fbcb2e" stroke-width="1.25" fill="none" stroke-linejoin="round"/>
</g>
<path d="M9.5 26.6H1343V762.6H9.5Z" stroke="#e6e8ee" stroke-width="1" fill="none"/>
<path d="M1277.5 27V762M10 735.5H1342M10 557.5H1342" stroke="#e0e1e6" stroke-width="1" fill="none" shape-rendering="crispEdges"/>
<text x="1286" y="69.95" fill="#131722" stroke="#131722" stroke-width="0.2" textLength="35.8" lengthAdjust="spacingAndGlyphs">3.6000</text>
<text x="1286" y="109.95" fill="#131722" stroke="#131722" stroke-width="0.2" textLength="35.8" lengthAdjust="spacingAndGlyphs">3.4000</text>
<text x="1286" y="148.95" fill="#131722" stroke="#131722" stroke-width="0.2" textLength="35.8" lengthAdjust="spacingAndGlyphs">3.2000</text>
<text x="1286" y="188.95" fill="#131722" stroke="#131722" stroke-width="0.2" textLength="35.8" lengthAdjust="spacingAndGlyphs">3.0000</text>
<text x="1286" y="227.95" fill="#131722" stroke="#131722" stroke-width="0.2" textLength="35.8" lengthAdjust="spacingAndGlyphs">2.8000</text>
<text x="1286" y="267.95" fill="#131722" stroke="#131722" stroke-width="0.2" textLength="35.8" lengthAdjust="spacingAndGlyphs">2.6000</text>
<text x="1286" y="306.95" fill="#131722" stroke="#131722" stroke-width="0.2" textLength="35.8" lengthAdjust="spacingAndGlyphs">2.4000</text>
<text x="1286" y="346.95" fill="#131722" stroke="#131722" stroke-width="0.2" textLength="35.8" lengthAdjust="spacingAndGlyphs">2.2000</text>
<text x="1286" y="385.95" fill="#131722" stroke="#131722" stroke-width="0.2" textLength="35.8" lengthAdjust="spacingAndGlyphs">2.0000</text>
<text x="1286" y="425.95" fill="#131722" stroke="#131722" stroke-width="0.2" textLength="35.8" lengthAdjust="spacingAndGlyphs">1.8000</text>
<text x="1286" y="464.95" fill="#131722" stroke="#131722" stroke-width="0.2" textLength="35.8" lengthAdjust="spacingAndGlyphs">1.6000</text>
<text x="1286" y="504.95" fill="#131722" stroke="#131722" stroke-width="0.2" textLength="35.8" lengthAdjust="spacingAndGlyphs">1.4000</text>
<text x="1286" y="544.95" fill="#131722" stroke="#131722" stroke-width="0.2" textLength="35.8" lengthAdjust="spacingAndGlyphs">1.2000</text>
<text x="1286" y="592.6" fill="#131722" stroke="#131722" stroke-width="0.2" textLength="29.2" lengthAdjust="spacingAndGlyphs">80.00</text>
<text x="1286" y="643.8" fill="#131722" stroke="#131722" stroke-width="0.2" textLength="29.2" lengthAdjust="spacingAndGlyphs">60.00</text>
<rect x="1278" y="27" width="64" height="33.5" fill="#fff"/>
<path d="M1278 60.3H1327V60.8Q1327 63 1324.8 63H1278Z" fill="#0000ff"/>
<rect x="1280.8" y="30.8" width="57.9" height="26" rx="4.5" fill="#fff" stroke="#e0e1e6" stroke-width="1"/>
<text x="1290.3" y="48.6" fill="#131722" stroke="#131722" stroke-width="0.2" textLength="26.5" lengthAdjust="spacingAndGlyphs">USDT</text>
<rect x="1227.2" y="337.1" width="99.7" height="16.6" rx="2" fill="#f23645"/>
<text x="1231.7" y="349.8" fill="#fff" stroke="#fff" stroke-width="0.2" textLength="41.2" lengthAdjust="spacingAndGlyphs">SMA:MA</text>
<text x="1286.1" y="349.8" fill="#fff" stroke="#fff" stroke-width="0.2" textLength="36" lengthAdjust="spacingAndGlyphs">2.1859</text>
<rect x="1246" y="366.2" width="80.9" height="16.6" rx="2" fill="#2962ff"/>
<text x="1251.1" y="378.9" fill="#fff" stroke="#fff" stroke-width="0.2" textLength="21.8" lengthAdjust="spacingAndGlyphs">EMA</text>
<text x="1286.1" y="378.9" fill="#fff" stroke="#fff" stroke-width="0.2" textLength="36" lengthAdjust="spacingAndGlyphs">2.0385</text>
<path d="M1222.2 394.9H1278V411.5H1222.2Q1220.2 411.5 1220.2 409.5V396.9Q1220.2 394.9 1222.2 394.9Z" fill="#ef5350"/>
<path d="M1277.5 394.9H1335.8Q1337.8 394.9 1337.8 396.9V437.6Q1337.8 439.6 1335.8 439.6H1277.5Z" fill="#ef5350"/>
<text x="1224.9" y="407.7" fill="#fff" stroke="#fff" stroke-width="0.2" textLength="47.2" lengthAdjust="spacingAndGlyphs">XRPUSDT</text>
<text x="1286.1" y="407.9" fill="#fff" stroke="#fff" stroke-width="0.2" textLength="36" lengthAdjust="spacingAndGlyphs">1.8958</text>
<text x="1286.1" y="422.1" fill="#fff" stroke="#fff" stroke-width="0.2" textLength="42.4" lengthAdjust="spacingAndGlyphs">−18.92%</text>
<text x="1286.1" y="435.8" fill="#fff" stroke="#fff" stroke-width="0.2" fill-opacity="0.72" textLength="46.3" lengthAdjust="spacingAndGlyphs">07:42:08</text>
<path d="M1277.5 451.2H1325Q1327 451.2 1327 453.2V465.8Q1327 467.8 1325 467.8H1277.5Z" fill="#0000ff"/>
<text x="1286.1" y="463.9" fill="#ffffff" stroke="#ffffff" stroke-width="0.2" textLength="36" lengthAdjust="spacingAndGlyphs">1.6100</text>
<rect x="1198.1" y="676.2" width="122.6" height="16.6" rx="2" fill="#fdd835"/>
<text x="1202.5" y="688.9" fill="#131722" stroke="#131722" stroke-width="0.2" textLength="70.3" lengthAdjust="spacingAndGlyphs">RSI-based MA</text>
<text x="1286.3" y="688.9" fill="#131722" stroke="#131722" stroke-width="0.2" textLength="28.7" lengthAdjust="spacingAndGlyphs">40.93</text>
<rect x="1252.2" y="693.3" width="68.5" height="16.6" rx="2" fill="#7e57c2"/>
<text x="1257" y="706.0" fill="#fff" stroke="#fff" stroke-width="0.2" textLength="15.8" lengthAdjust="spacingAndGlyphs">RSI</text>
<text x="1286.3" y="706.0" fill="#fff" stroke="#fff" stroke-width="0.2" textLength="28.7" lengthAdjust="spacingAndGlyphs">35.86</text>
<path d="M1277.5 337V354M1277.5 366V383M1277.5 395V412M1277.5 676V710" stroke="#fff" stroke-opacity="0.6" stroke-width="1" fill="none" shape-rendering="crispEdges"/>
<text x="59.8" y="752.8" fill="#131722" stroke="#131722" stroke-width="0.2" textLength="17.8" lengthAdjust="spacingAndGlyphs">Apr</text>
<text x="185.1" y="752.8" fill="#131722" stroke="#131722" stroke-width="0.2" textLength="21.1" lengthAdjust="spacingAndGlyphs">May</text>
<text x="318.6" y="752.8" fill="#131722" stroke="#131722" stroke-width="0.2" textLength="18.3" lengthAdjust="spacingAndGlyphs">Jun</text>
<text x="448.4" y="752.8" fill="#131722" stroke="#131722" stroke-width="0.2" textLength="14.5" lengthAdjust="spacingAndGlyphs">Jul</text>
<text x="577.9" y="752.8" fill="#131722" stroke="#131722" stroke-width="0.2" textLength="19.6" lengthAdjust="spacingAndGlyphs">Aug</text>
<text x="709.9" y="752.8" fill="#131722" stroke="#131722" stroke-width="0.2" textLength="19.6" lengthAdjust="spacingAndGlyphs">Sep</text>
<text x="838.4" y="752.8" fill="#131722" stroke="#131722" stroke-width="0.2" textLength="18.6" lengthAdjust="spacingAndGlyphs">Oct</text>
<text x="969.6" y="752.8" fill="#131722" stroke="#131722" stroke-width="0.2" textLength="20.2" lengthAdjust="spacingAndGlyphs">Nov</text>
<text x="1097.6" y="752.8" fill="#131722" stroke="#131722" stroke-width="0.2" textLength="20.2" lengthAdjust="spacingAndGlyphs">Dec</text>
<text x="1226.4" y="752.8" fill="#131722" stroke="#131722" stroke-width="0.2" textLength="26.7" lengthAdjust="spacingAndGlyphs" font-weight="bold">2026</text>
<text x="17.8" y="45.8" fill="#131722" stroke="#131722" stroke-width="0.2" textLength="159.6" lengthAdjust="spacingAndGlyphs">XRP / TetherUS · 1D · Binance</text>
<text x="186.6" y="45.8" fill="#131722" stroke="#131722" stroke-width="0.2">O</text>
<text x="195.9" y="45.8" fill="#ef5350" stroke="#ef5350" stroke-width="0.2" textLength="34.3" lengthAdjust="spacingAndGlyphs">1.9297</text>
<text x="237.6" y="45.8" fill="#131722" stroke="#131722" stroke-width="0.2">H</text>
<text x="245.8" y="45.8" fill="#ef5350" stroke="#ef5350" stroke-width="0.2" textLength="35.1" lengthAdjust="spacingAndGlyphs">1.9874</text>
<text x="289" y="45.8" fill="#131722" stroke="#131722" stroke-width="0.2">L</text>
<text x="294.9" y="45.8" fill="#ef5350" stroke="#ef5350" stroke-width="0.2" textLength="34" lengthAdjust="spacingAndGlyphs">1.8921</text>
<text x="337.4" y="45.8" fill="#131722" stroke="#131722" stroke-width="0.2">C</text>
<text x="345.5" y="45.8" fill="#ef5350" stroke="#ef5350" stroke-width="0.2" textLength="34.4" lengthAdjust="spacingAndGlyphs">1.8958</text>
<text x="388" y="45.8" fill="#ef5350" stroke="#ef5350" stroke-width="0.2" textLength="91.3" lengthAdjust="spacingAndGlyphs">−0.0339 (−1.76%)</text>
<text x="17.9" y="62.8" fill="#131722" stroke="#131722" stroke-width="0.2" textLength="81.9" lengthAdjust="spacingAndGlyphs">EMA (20, close)</text>
<text x="107.7" y="62.8" fill="#2962ff" stroke="#2962ff" stroke-width="0.2" textLength="35.5" lengthAdjust="spacingAndGlyphs">2.0385</text>
<text x="17.9" y="79.8" fill="#131722" stroke="#131722" stroke-width="0.2" textLength="81.3" lengthAdjust="spacingAndGlyphs">SMA (50, close)</text>
<text x="107.2" y="79.8" fill="#f23645" stroke="#f23645" stroke-width="0.2" textLength="35.3" lengthAdjust="spacingAndGlyphs">2.1859</text>
<text x="18.1" y="577.2" fill="#131722" stroke="#131722" stroke-width="0.2" textLength="75.5" lengthAdjust="spacingAndGlyphs">RSI (14, close)</text>
<text x="101.9" y="577.2" fill="#7e57c2" stroke="#7e57c2" stroke-width="0.2" textLength="29.1" lengthAdjust="spacingAndGlyphs">35.86</text>
<text x="138.4" y="577.2" fill="#fdd835" stroke="#fdd835" stroke-width="0.2" textLength="29.5" lengthAdjust="spacingAndGlyphs">40.93</text>
<path d="M12.2 785.3H23.9V799.5H18V791H12.2Z" fill="#0f0f0f"/>
<circle cx="28.3" cy="788" r="2.75" fill="#0f0f0f"/>
<path d="M32.3 785.3H41.6L35.9 799.5H29Z" fill="#0f0f0f"/>
<text x="49.2" y="799.5" font-size="20px" font-weight="bold" fill="#0f0f0f" stroke="#0f0f0f" stroke-width="0.2" textLength="120.4" lengthAdjust="spacingAndGlyphs">TradingView</text>
</svg>
</body></html>
